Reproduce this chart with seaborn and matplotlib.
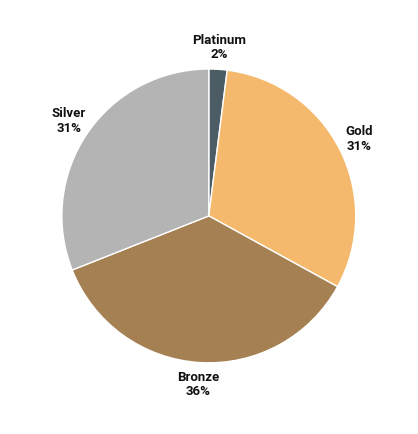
import matplotlib
matplotlib.use("Agg")
import matplotlib.pyplot as plt
import seaborn as sns
import numpy as np

categories = ["Platinum", "Gold", "Bronze", "Silver"]
values = [2, 31, 36, 31]
colors = ["#4b5c64", "#f4b96c", "#a58052", "#b4b4b4"]

sns.set_theme(style="white")
plt.rcParams['font.family'] = ['Roboto', 'DejaVu Sans']

fig = plt.figure(figsize=(4.18, 4.34), dpi=100)
ax = fig.add_axes([0.148, 0.164, 0.703, 0.677])
wedges, _ = ax.pie(values, colors=colors, startangle=90, counterclock=False,
                   wedgeprops=dict(edgecolor="white", linewidth=1))
ax.set_xlim(-1, 1)
ax.set_ylim(-1, 1)
ax.set_aspect("equal")
ax.axis("off")

total = sum(values)
for w, cat, v in zip(wedges, categories, values):
    ang = np.deg2rad((w.theta1 + w.theta2) / 2)
    d = 1.15
    ax.text(d * np.cos(ang), d * np.sin(ang), f"{cat}\n{round(100 * v / total)}%",
            ha="center", va="center", fontsize=9.5, fontweight="bold",
            color="#111111", linespacing=1.15, clip_on=False)

fig.savefig("out.png", dpi=100)
